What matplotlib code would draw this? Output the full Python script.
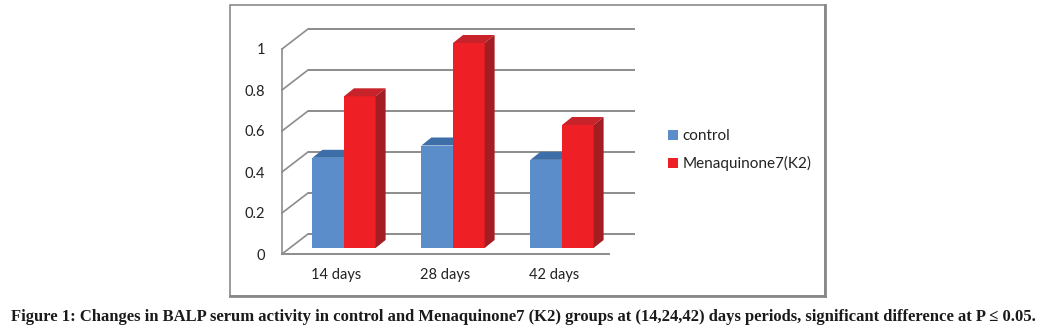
import matplotlib
matplotlib.use('Agg')
import matplotlib.pyplot as plt
import numpy as np
from matplotlib.patches import Polygon, Rectangle, Patch

# data
categories = ['14 days', '28 days', '42 days']
control = [0.44, 0.50, 0.43]
menaquinone = [0.74, 1.00, 0.60]
yticks = [0, 0.2, 0.4, 0.6, 0.8, 1.0]
ytick_labels = ['0', '0.2', '0.4', '0.6', '0.8', '1']
series_names = ['control', 'Menaquinone7(K2)']
caption = ('Figure 1: Changes in BALP serum activity in control and Menaquinone7 (K2) '
           'groups at (14,24,42) days periods, significant difference at P \u2264 0.05.')

# colours: front, top, side
blue = ('#5b8dcb', '#3e6ea8', '#345d90')
red = ('#ee1f25', '#c8232a', '#a41d23')
grid_c = '#8c8c8c'

plt.rcParams['font.family'] = ['Lato', 'DejaVu Sans']

W, H = 1047, 336
fig = plt.figure(figsize=(W / 100, H / 100), dpi=100)

# outer chart frame
fig.patches.append(Rectangle((230 / W, 1 - 296 / H), 595 / W, 291 / H,
                             transform=fig.transFigure, fill=False,
                             edgecolor='#8a8a8a', lw=1.2))
fig.add_artist(plt.Line2D([230 / W, 825 / W], [1 - 296 / H, 1 - 296 / H],
                          transform=fig.transFigure, color='#888888', lw=2))
fig.add_artist(plt.Line2D([825 / W, 825 / W], [1 - 296 / H, 1 - 5 / H],
                          transform=fig.transFigure, color='#888888', lw=2))

# front plane of the 3-D box
ax = fig.add_axes([282 / W, 1 - 254 / H, 327 / W, 205 / H])
ax.set_xlim(-0.5, 2.5)
ax.set_ylim(0, 1.0)
for s in ax.spines.values():
    s.set_visible(False)
ax.patch.set_visible(False)

ppx = 327 / 3.0    # pixels per category
ppy = 205 / 1.0    # pixels per unit value

def off(px, py):
    return px / ppx, py / ppy

bx, by = off(26, 20)      # back wall offset
fx, fy = off(7.5, 6)      # bar front offset
sx, sy = off(10, 8)       # bar depth

x0, x1 = ax.get_xlim()
# back wall gridlines and left wall diagonals
for v in yticks:
    ax.plot([x0 + bx, x1 + bx], [v + by, v + by], color=grid_c, lw=1.4,
            clip_on=False, zorder=1, solid_capstyle='butt')
    ax.plot([x0, x0 + bx], [v, v + by], color=grid_c, lw=1.2,
            clip_on=False, zorder=1)
ax.plot([x0, x0], [0, 1.0], color=grid_c, lw=1.2, clip_on=False, zorder=1)
ax.plot([x0, x1], [0, 0], color=grid_c, lw=1.4, clip_on=False, zorder=1)

bw = 0.29
x = np.arange(len(categories))

def bar3d(xl, h, cols):
    xr = xl + bw
    ax.add_patch(Polygon([(xl + fx, fy), (xr + fx, fy), (xr + fx, h + fy), (xl + fx, h + fy)],
                         closed=True, facecolor=cols[0], edgecolor='none', zorder=3, clip_on=False))
    ax.add_patch(Polygon([(xl + fx, h + fy), (xr + fx, h + fy), (xr + fx + sx, h + fy + sy),
                          (xl + fx + sx, h + fy + sy)],
                         closed=True, facecolor=cols[1], edgecolor='none', zorder=3, clip_on=False))
    ax.add_patch(Polygon([(xr + fx, fy), (xr + fx + sx, fy + sy), (xr + fx + sx, h + fy + sy),
                          (xr + fx, h + fy)],
                         closed=True, facecolor=cols[2], edgecolor='none', zorder=3, clip_on=False))

for i in range(len(categories)):
    bar3d(x[i] - bw, control[i], blue)
for i in range(len(categories)):
    bar3d(x[i], menaquinone[i], red)

ax.set_yticks(yticks)
ax.set_yticklabels(ytick_labels)
ax.set_xticks(x)
ax.set_xticklabels(categories)
ax.tick_params(axis='y', length=0, pad=12, labelsize=10.5, colors='#222222')
ax.tick_params(axis='x', length=0, pad=10, labelsize=10.5, colors='#222222')

handles = [Patch(facecolor=blue[0]), Patch(facecolor=red[0])]
fig.legend(handles, series_names, loc='upper left', bbox_to_anchor=(662 / W, 1 - 123 / H),
           frameon=False, fontsize=11, handlelength=0.65, handleheight=0.65,
           handletextpad=0.3, labelspacing=0.85, borderaxespad=0, labelcolor='#222222')

fig.text(0.5, 1 - 317 / H, caption, ha='center', va='center', fontsize=12,
         fontweight='bold', family='Liberation Serif', color='#1a1a1a')

fig.savefig('out.png', dpi=100)
